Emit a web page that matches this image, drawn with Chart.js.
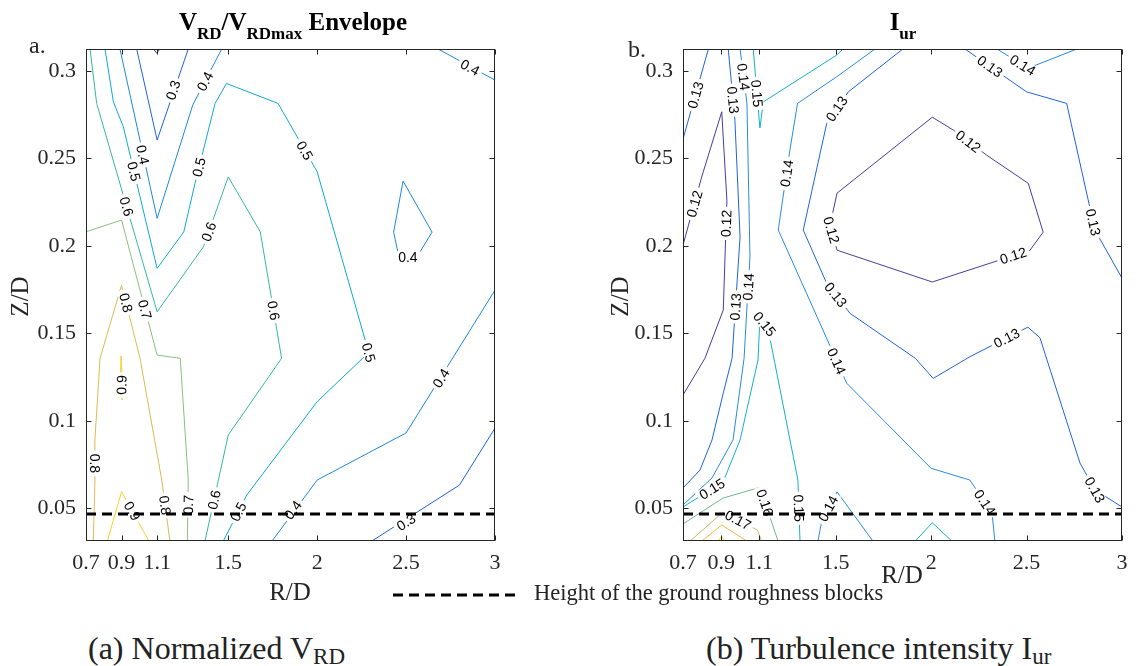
<!DOCTYPE html>
<html>
<head>
<meta charset="utf-8">
<script src="https://cdn.jsdelivr.net/npm/chart.js@4.4.1/dist/chart.umd.min.js"></script>
<style>
  body { margin: 0; background: #fff; width: 1138px; height: 666px; position: relative; overflow: hidden;
         font-family: "Liberation Serif", "Times New Roman", serif; color: #262626; }
  .box { position: absolute; top: 0; height: 620px; }
  .t { position: absolute; white-space: nowrap; }
  .ttl { font-weight: bold; font-size: 25px; line-height: 25px; text-align: center; color: #000; }
  .ttl sub { font-size: 17px; vertical-align: -9px; line-height: 0; }
  .cap { font-size: 32px; line-height: 32px; color: #222; }
  .cap sub { font-size: 23px; vertical-align: -5px; line-height: 0; }
  .ax { font-size: 25px; line-height: 25px; }
</style>
</head>
<body>
<div class="box" style="left:0;width:560px"><canvas id="chartA"></canvas></div>
<div class="box" style="left:580px;width:558px"><canvas id="chartB"></canvas></div>

<div class="t ttl" style="left:93px;width:400px;top:9px">V<sub>RD</sub>/V<sub>RDmax</sub> Envelope</div>
<div class="t ttl" style="left:703px;width:400px;top:9px">I<sub>ur</sub></div>
<div class="t" style="left:29px;top:33px;font-size:24px;line-height:24px">a.</div>
<div class="t" style="left:628px;top:37px;font-size:24px;line-height:24px">b.</div>

<div class="t ax" style="left:240px;width:100px;text-align:center;top:579px">R/D</div>
<div class="t ax" style="left:852px;width:100px;text-align:center;top:562px">R/D</div>
<div class="t ax" style="left:-31px;width:100px;text-align:center;top:284px;transform:rotate(-90deg)">Z/D</div>
<div class="t ax" style="left:569px;width:100px;text-align:center;top:284px;transform:rotate(-90deg)">Z/D</div>

<svg class="t" style="left:393px;top:588px" width="125" height="14">
  <line x1="0" y1="7" x2="123" y2="7" stroke="#000" stroke-width="3" stroke-dasharray="10 6"/>
</svg>
<div class="t" style="left:534px;top:582px;font-size:22.5px;line-height:22px;color:#222">Height of the ground roughness blocks</div>

<div class="t cap" style="left:88px;top:632px">(a) Normalized V<sub>RD</sub></div>
<div class="t cap" style="left:706px;top:632px">(b) Turbulence intensity I<sub>ur</sub></div>

<script>
// axes (both panels share them)
const xTicks = [0.7, 0.9, 1.1, 1.5, 2, 2.5, 3];
const yTicks = [0.05, 0.1, 0.15, 0.2, 0.25, 0.3];
const xRange = [0.7, 3];
const yRange = [0.03125, 0.3125];
const blockHeight = 0.0467; // height of the ground roughness blocks, Z/D

// ---- panel a: V_RD / V_RDmax contour lines, [R/D, Z/D] ----
const v20 = [[1.08, 0.3125], [1.098, 0.3101], [1.115, 0.3125]];
const v30a = [[0.985, 0.3125], [1.1, 0.2604], [1.275, 0.3125]];
const v30b = [[2.307, 0.0312], [2.8, 0.0632], [3.0, 0.0958]];
const v40a = [[0.891, 0.3125], [1.1, 0.2157], [1.3, 0.2804], [1.463, 0.3125]];
const v40b = [[2.68, 0.3125], [3.0, 0.2947]];
const v40c = [[2.483, 0.237], [2.646, 0.2078], [2.56, 0.1935], [2.46, 0.1935], [2.43, 0.2078], [2.483, 0.237]];
const v40d = [[1.746, 0.0312], [2.0, 0.0661], [2.5, 0.093], [3.0, 0.1747]];
const v50 = [[0.807, 0.3125], [0.854, 0.2823], [0.91, 0.268], [1.1, 0.1871], [1.25, 0.208], [1.313, 0.2357],
             [1.426, 0.2814], [1.49, 0.2928], [1.78, 0.2814], [2.0, 0.2423], [2.29, 0.139], [2.0, 0.1109],
             [1.604, 0.0575], [1.472, 0.0312]];
const v60 = [[0.7225, 0.3125], [0.76, 0.2814], [1.1, 0.1623], [1.36, 0.1994], [1.5, 0.2394], [1.68, 0.208],
             [1.8, 0.1357], [1.5, 0.0918], [1.369, 0.0312]];
const v70 = [[0.7, 0.208], [0.9, 0.2147], [1.1, 0.1375], [1.23, 0.1357], [1.275, 0.0661], [1.27, 0.0312]];
const v80 = [[0.741, 0.0312], [0.75, 0.0642], [0.75, 0.089], [0.779, 0.1357], [0.9, 0.1775], [1.004, 0.1357],
             [1.126, 0.0661], [1.172, 0.0312]];
const v90a = [[0.897, 0.137], [0.904, 0.125], [0.902, 0.112], [0.893, 0.124], [0.897, 0.137]];
const v90b = [[0.82, 0.0312], [0.9, 0.0594], [1.054, 0.0312]];

const vrdContours = [
  { lvl: 0.2, pts: v20, lab: [] },
  { lvl: 0.3, pts: v30a, lab: [[1.19, 0.289]] },
  { lvl: 0.3, pts: v30b, lab: [[2.5, 0.042]] },
  { lvl: 0.4, pts: v40a, lab: [[1.02, 0.252], [1.369, 0.294]] },
  { lvl: 0.4, pts: v40b, lab: [[2.86, 0.302]] },
  { lvl: 0.4, pts: v40c, lab: [[2.51, 0.1935]] },
  { lvl: 0.4, pts: v40d, lab: [[1.864, 0.049], [2.697, 0.1244]] },
  { lvl: 0.5, pts: v50, lab: [[0.97, 0.2425], [1.335, 0.245], [1.93, 0.2545], [2.29, 0.139], [1.556, 0.048]] },
  { lvl: 0.6, pts: v60, lab: [[0.929, 0.2225], [1.39, 0.208], [1.755, 0.163], [1.42, 0.0548]] },
  { lvl: 0.7, pts: v70, lab: [[1.032, 0.1637], [1.275, 0.052]] },
  { lvl: 0.8, pts: v80, lab: [[0.75, 0.0756], [0.925, 0.1675], [1.145, 0.0517]] },
  { lvl: 0.9, pts: v90a, lab: [[0.9, 0.1205]] },
  { lvl: 0.9, pts: v90b, lab: [[0.96, 0.0484]] }
];
const vrdColors = { 0.2: '#3b2f95', 0.3: '#1f63dd', 0.4: '#1f87db', 0.5: '#0eaad2',
                    0.6: '#33b8a4', 0.7: '#8ac07a', 0.8: '#dcb952', 0.9: '#f9cf2a' };

// ---- panel b: I_ur contour lines, [R/D, Z/D] ----
const i12a = [[0.7, 0.2004], [0.798, 0.2394], [0.903, 0.2766], [0.93, 0.226], [0.911, 0.1633], [0.815, 0.1357], [0.7, 0.1147]];
const i12b = [[1.507, 0.2301], [1.47, 0.2118], [1.507, 0.1975], [2.006, 0.1793], [2.518, 0.1975], [2.587, 0.2078],
              [2.509, 0.2357], [2.291, 0.2518], [2.117, 0.2661], [2.006, 0.2735], [1.507, 0.2301]];
const i13a = [[0.833, 0.3125], [0.7, 0.261]];
const i13b = [[0.937, 0.3125], [0.972, 0.2718], [0.999, 0.205], [0.977, 0.169], [0.957, 0.1357], [0.911, 0.1158],
              [0.852, 0.089], [0.789, 0.0718], [0.7, 0.0615]];
const i13c = [[1.852, 0.3125], [1.566, 0.288], [1.453, 0.27], [1.33, 0.209], [1.453, 0.1785], [1.575, 0.1614],
              [1.917, 0.1357], [2.011, 0.1242], [2.203, 0.1366], [2.507, 0.1535], [2.57, 0.1474], [2.78, 0.0758],
              [2.858, 0.0605], [3.0, 0.0507]];
const i13d = [[2.177, 0.3125], [2.5, 0.288], [2.71, 0.2814], [2.858, 0.209], [3.0, 0.1815]];
const i14a = [[0.999, 0.3125], [1.035, 0.2814], [1.051, 0.1935], [1.035, 0.165], [1.02, 0.1357], [0.962, 0.089],
              [0.852, 0.0673], [0.7, 0.0518]];
const i14b = [[1.706, 0.3125], [1.505, 0.2966], [1.3, 0.2814], [1.26, 0.2547], [1.199, 0.209], [1.558, 0.1214],
              [2.0, 0.0728], [2.203, 0.0661], [2.319, 0.0473], [2.334, 0.0312]];
const i14c = [[2.345, 0.3125], [2.507, 0.3015], [2.764, 0.3125]];
const i14d = [[1.407, 0.0312], [1.428, 0.0433], [1.507, 0.0593], [1.695, 0.0312]];
const i15a = [[1.068, 0.3125], [1.103, 0.2673], [1.121, 0.2823], [1.505, 0.309], [1.538, 0.3125]];
const i15b = [[0.7, 0.0507], [0.91, 0.065], [0.999, 0.089], [1.093, 0.1347], [1.103, 0.1587], [1.145, 0.153],
              [1.302, 0.0661], [1.313, 0.0312]];
const i15c = [[1.917, 0.0312], [2.006, 0.0417], [2.108, 0.0312]];
const i16 = [[0.7, 0.041], [0.91, 0.0558], [1.103, 0.0619], [1.198, 0.0312]];
const i17 = [[0.737, 0.0312], [0.91, 0.0478], [1.09, 0.0375], [1.112, 0.0312]];
const i18 = [[0.798, 0.0312], [0.903, 0.0404], [1.034, 0.0312]];
const i19 = [[0.883, 0.0312], [0.903, 0.0338], [0.92, 0.0312]];

const iurContours = [
  { lvl: 0.12, pts: i12a, lab: [[0.76, 0.224], [0.926, 0.2128]] },
  { lvl: 0.12, pts: i12b, lab: [[2.195, 0.2597], [2.43, 0.1944], [1.478, 0.209]] },
  { lvl: 0.13, pts: i13a, lab: [[0.765, 0.2862]] },
  { lvl: 0.13, pts: i13b, lab: [[0.962, 0.2833], [0.975, 0.1651]] },
  { lvl: 0.13, pts: i13c, lab: [[1.505, 0.2783], [1.5, 0.172], [2.396, 0.1473], [2.858, 0.0605]] },
  { lvl: 0.13, pts: i13d, lab: [[2.308, 0.3026], [2.849, 0.2135]] },
  { lvl: 0.14, pts: i14a, lab: [[1.017, 0.2966], [1.0415, 0.1766]] },
  { lvl: 0.14, pts: i14b, lab: [[1.243, 0.2414], [1.505, 0.134], [2.282, 0.0533]] },
  { lvl: 0.14, pts: i14c, lab: [[2.48, 0.3033]] },
  { lvl: 0.14, pts: i14d, lab: [[1.46, 0.0498]] },
  { lvl: 0.15, pts: i15a, lab: [[1.088, 0.2871]] },
  { lvl: 0.15, pts: i15b, lab: [[0.852, 0.061], [1.128, 0.1553], [1.307, 0.05]] },
  { lvl: 0.15, pts: i15c, lab: [] },
  { lvl: 0.16, pts: i16, lab: [[1.13, 0.0532]] },
  { lvl: 0.17, pts: i17, lab: [[0.988, 0.0433]] },
  { lvl: 0.18, pts: i18, lab: [] },
  { lvl: 0.19, pts: i19, lab: [] }
];
const iurColors = { 0.12: '#453c9f', 0.13: '#1f63dd', 0.14: '#2a8ae0', 0.15: '#12b0cc',
                    0.16: '#6cbc88', 0.17: '#c9b66a', 0.18: '#f8b43a', 0.19: '#f5e21b' };

function segDist2(px, py, ax, ay, bx, by) {
  const dx = bx - ax, dy = by - ay, L = dx * dx + dy * dy;
  let t = L ? ((px - ax) * dx + (py - ay) * dy) / L : 0;
  t = Math.max(0, Math.min(1, t));
  const cx = ax + t * dx - px, cy = ay + t * dy - py;
  return cx * cx + cy * cy;
}

// contour labels (drawn just before the dashed line, which is dataset 0 and drawn last),
// plus the box and inward ticks on all four sides
const contourDeco = {
  id: 'contourDeco',
  beforeDatasetDraw(chart, args) {
    if (args.index !== 0) return;
    const { ctx, scales: { x, y } } = chart;
    ctx.save();
    ctx.font = '14px "Liberation Sans", Arial, sans-serif';
    ctx.textAlign = 'center';
    ctx.textBaseline = 'middle';
    chart.data.datasets.forEach(ds => {
      if (!ds.tags) return;
      const P = ds.data.map(p => [x.getPixelForValue(p.x), y.getPixelForValue(p.y)]);
      ds.tags.forEach(([lx, ly]) => {
        const px = x.getPixelForValue(lx), py = y.getPixelForValue(ly);
        let best = Infinity, ang = 0;
        for (let i = 0; i < P.length - 1; i++) {
          const d = segDist2(px, py, P[i][0], P[i][1], P[i + 1][0], P[i + 1][1]);
          if (d < best) { best = d; ang = Math.atan2(P[i + 1][1] - P[i][1], P[i + 1][0] - P[i][0]); }
        }
        if (ang > Math.PI / 2) ang -= Math.PI;
        if (ang <= -Math.PI / 2) ang += Math.PI;
        const txt = String(ds.level);
        const w = ctx.measureText(txt).width;
        ctx.save();
        ctx.translate(px, py);
        ctx.rotate(ang);
        ctx.fillStyle = '#fff';
        ctx.fillRect(-w / 2 - 3, -6, w + 6, 12);
        ctx.fillStyle = '#000';
        ctx.fillText(txt, 0, 1);
        ctx.restore();
      });
    });
    ctx.restore();
  },
  afterDraw(chart) {
    const { ctx, chartArea: a, scales: { x, y } } = chart;
    const L = Math.round(a.left) + 0.5, R = Math.round(a.right) - 0.5;
    const T = Math.round(a.top) + 0.5, B = Math.round(a.bottom) - 0.5;
    ctx.save();
    ctx.strokeStyle = '#262626';
    ctx.lineWidth = 1;
    ctx.strokeRect(L, T, R - L, B - T);
    ctx.beginPath();
    xTicks.forEach(v => {
      const px = Math.round(x.getPixelForValue(v)) + 0.5;
      ctx.moveTo(px, B); ctx.lineTo(px, B - 5);
      ctx.moveTo(px, T); ctx.lineTo(px, T + 5);
    });
    yTicks.forEach(v => {
      const py = Math.round(y.getPixelForValue(v)) + 0.5;
      ctx.moveTo(L, py); ctx.lineTo(L + 5, py);
      ctx.moveTo(R, py); ctx.lineTo(R - 5, py);
    });
    ctx.stroke();
    ctx.restore();
  }
};

function makeChart(id, contours, colors, axisWidth, padRight) {
  const datasets = [{
    data: [{ x: xRange[0], y: blockHeight }, { x: xRange[1], y: blockHeight }],
    showLine: true, borderColor: '#000', borderWidth: 3, borderDash: [10, 6], pointRadius: 0
  }];
  contours.forEach(c => {
    datasets.push({
      data: c.pts.map(([r, z]) => ({ x: r, y: z })),
      level: c.lvl,
      tags: c.lab,
      showLine: true,
      borderColor: colors[c.lvl],
      borderWidth: 1,
      pointRadius: 0,
      tension: 0
    });
  });
  const tickFont = { family: '"Liberation Serif", "Times New Roman", serif', size: 22 };
  return new Chart(document.getElementById(id), {
    type: 'scatter',
    data: { datasets },
    options: {
      responsive: true,
      maintainAspectRatio: false,
      animation: false,
      events: [],
      layout: { padding: { top: 49, right: padRight, left: 0, bottom: 0 } },
      plugins: { legend: { display: false }, tooltip: { enabled: false } },
      scales: {
        x: {
          type: 'linear', min: xRange[0], max: xRange[1],
          grid: { display: false, drawTicks: false },
          border: { display: false },
          afterBuildTicks: s => { s.ticks = xTicks.map(v => ({ value: v })); },
          afterFit: s => { s.height = 79; },
          ticks: { autoSkip: false, maxRotation: 0, padding: 9, color: '#262626', font: tickFont,
                   callback: v => String(v) }
        },
        y: {
          type: 'linear', min: yRange[0], max: yRange[1],
          grid: { display: false, drawTicks: false },
          border: { display: false },
          afterBuildTicks: s => { s.ticks = yTicks.map(v => ({ value: v })); },
          afterFit: s => { s.width = axisWidth; },
          ticks: { padding: 10, color: '#262626', font: tickFont, callback: v => String(v) }
        }
      }
    },
    plugins: [contourDeco]
  });
}

makeChart('chartA', vrdContours, vrdColors, 86, 65);
makeChart('chartB', iurContours, iurColors, 103, 16);
</script>
</body>
</html>
